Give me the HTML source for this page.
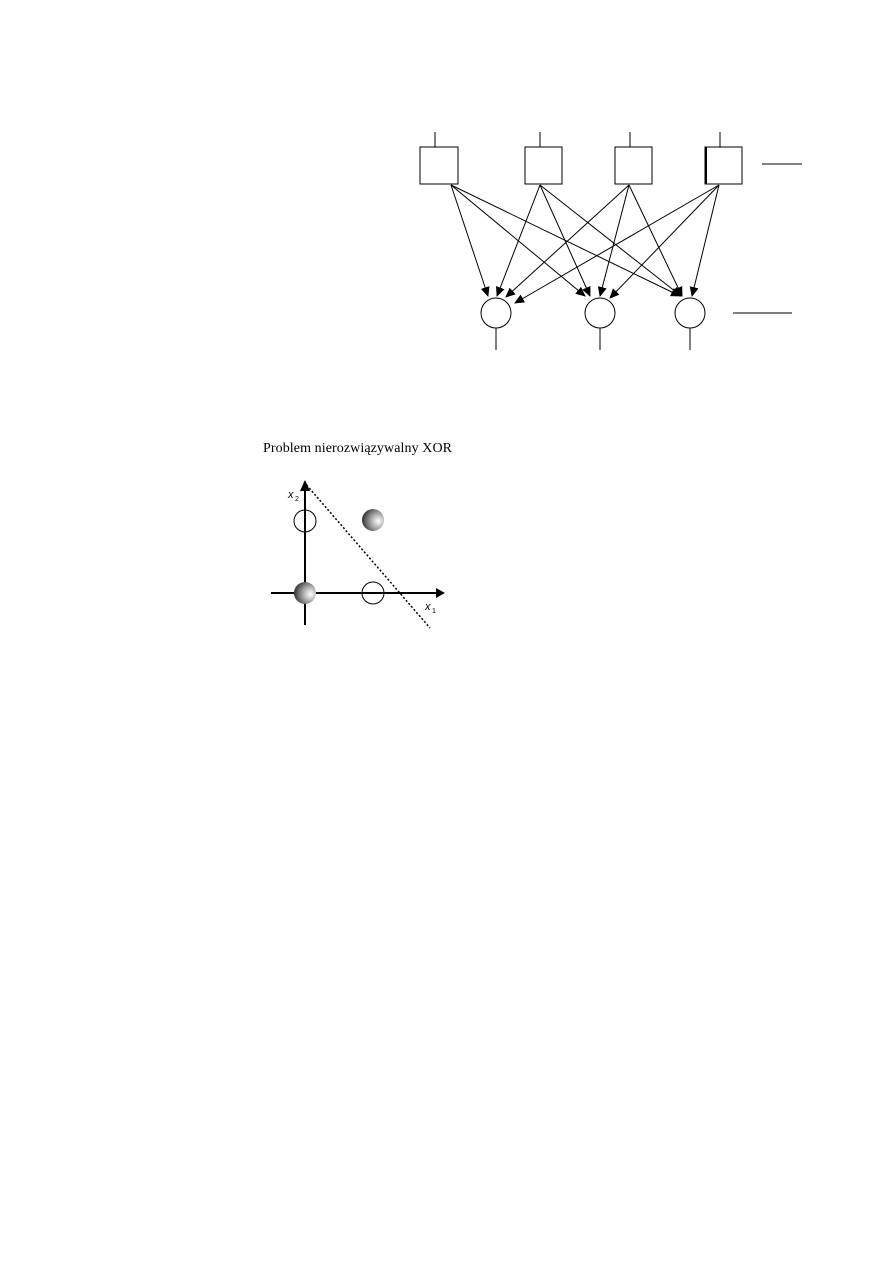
<!DOCTYPE html>
<html><head><meta charset="utf-8"><style>body{margin:0;background:#fff}</style></head><body>
<svg width="893" height="1263" xmlns="http://www.w3.org/2000/svg">
<defs>
<marker id="a" markerWidth="10" markerHeight="9" refX="9" refY="4.5" orient="auto" markerUnits="userSpaceOnUse"><path d="M0,0 L10,4.5 L0,9 z" fill="#000"/></marker>
<radialGradient id="g" cx="0.75" cy="0.55" r="0.8"><stop offset="0" stop-color="#fff"/><stop offset="0.5" stop-color="#999"/><stop offset="1" stop-color="#222"/></radialGradient>
</defs>
<g stroke="#000" stroke-width="1" fill="none">
<rect x="420" y="147" width="38" height="37" fill="#fff"/>
<rect x="525" y="147" width="37" height="37" fill="#fff"/>
<rect x="615" y="147" width="37" height="37" fill="#fff"/>
<rect x="705" y="147" width="37" height="37" fill="#fff"/>
<line x1="706" y1="147" x2="706" y2="184" stroke-width="2"/>
<line x1="435" y1="132" x2="435" y2="147"/><line x1="540" y1="132" x2="540" y2="147"/>
<line x1="630" y1="132" x2="630" y2="147"/><line x1="720" y1="132" x2="720" y2="147"/>
<line x1="762" y1="164" x2="802" y2="164"/><line x1="733" y1="313" x2="792" y2="313"/>
<circle cx="496" cy="313" r="15"/><circle cx="600" cy="313" r="15"/><circle cx="690" cy="313" r="15"/>
<line x1="496" y1="328" x2="496" y2="350"/><line x1="600" y1="328" x2="600" y2="350"/><line x1="690" y1="328" x2="690" y2="350"/>
<g marker-end="url(#a)">
<line x1="451" y1="185" x2="488" y2="296"/><line x1="451" y1="185" x2="585" y2="296"/><line x1="451" y1="185" x2="680" y2="296"/>
<line x1="540" y1="185" x2="497" y2="296"/><line x1="540" y1="185" x2="590" y2="296"/><line x1="540" y1="185" x2="681" y2="296"/>
<line x1="629" y1="185" x2="506" y2="297"/><line x1="629" y1="185" x2="600" y2="296"/><line x1="629" y1="185" x2="682" y2="296"/>
<line x1="719" y1="185" x2="515" y2="303"/><line x1="719" y1="185" x2="610" y2="298"/><line x1="719" y1="185" x2="692" y2="296"/>
</g>
<line x1="305" y1="490" x2="305" y2="625" stroke-width="2"/>
<line x1="271" y1="593" x2="436" y2="593" stroke-width="2"/>
<line x1="304" y1="482" x2="430" y2="628" stroke-dasharray="2,2" stroke-width="1.5"/>
<circle cx="305" cy="521" r="11"/><circle cx="373" cy="593" r="11"/>
</g>
<path d="M300,491 L305,480 L310,491 z"/><path d="M436,588 L445,593 L436,598 z"/>
<circle cx="373" cy="520" r="11" fill="url(#g)"/><circle cx="305" cy="593" r="11" fill="url(#g)"/>
<text x="263" y="452" font-family="Liberation Serif, serif" font-size="14" textLength="189">Problem nierozwiązywalny XOR</text>
<text x="288" y="498" font-family="Liberation Sans, sans-serif" font-size="11" font-style="italic">x</text><text x="295" y="501" font-family="Liberation Sans" font-size="7">2</text>
<text x="425" y="610" font-family="Liberation Sans, sans-serif" font-size="11" font-style="italic">x</text><text x="432" y="613" font-family="Liberation Sans" font-size="7">1</text>
</svg>
</body></html>
